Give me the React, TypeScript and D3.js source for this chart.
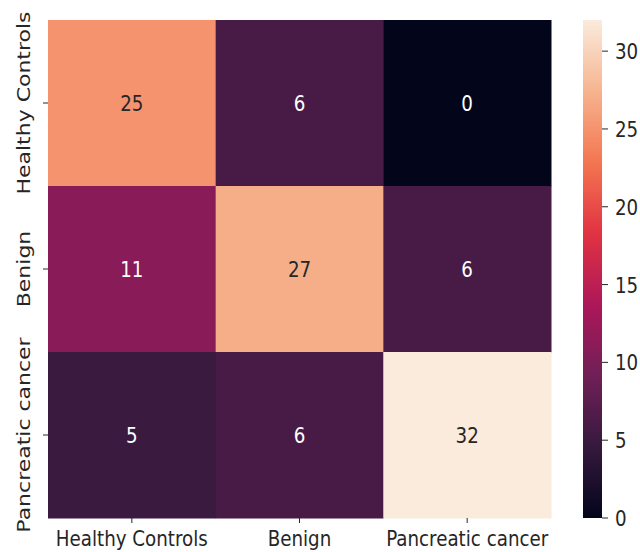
import React from "react";
import * as d3 from "d3";

// Confusion matrix: rows = true class, columns = predicted class
const categories = ["Healthy Controls", "Benign", "Pancreatic cancer"];
const rowHealthy = [25, 6, 0];
const rowBenign = [11, 27, 6];
const rowCancer = [5, 6, 32];
const matrix = [rowHealthy, rowBenign, rowCancer];
const colorbarTicks = [0, 5, 10, 15, 20, 25, 30];
const vmin = 0;
const vmax = 32;

// "rocket" colormap anchor colours, evenly spaced from 0 to 1
const rocketStops = [
  "#03051a",
  "#35193e",
  "#701f57",
  "#ad1759",
  "#e13342",
  "#f37651",
  "#f6b48f",
  "#faebdd",
];

const W = 640;
const H = 552;
const FONT = "DejaVu Sans, sans-serif";
const FS = 22;
const SX = 0.83; // horizontal glyph compression

export default function App() {
  const rocket = d3.piecewise(d3.interpolateRgb, rocketStops);
  const color = d3.scaleSequential(rocket).domain([vmin, vmax]);

  const heat = { left: 48, right: 551, top: 20, bottom: 518 };
  const x = d3
    .scaleBand<string>()
    .domain(categories)
    .range([heat.left, heat.right])
    .padding(0);
  const y = d3
    .scaleBand<string>()
    .domain(categories)
    .range([heat.top, heat.bottom])
    .padding(0);

  const cb = { left: 583, right: 602, top: 20, bottom: 518 };
  const cy = d3.scaleLinear().domain([vmin, vmax]).range([cb.bottom, cb.top]);
  const gradStops = d3.range(0, 1.0001, 1 / 64);

  const cells: { r: string; c: string; v: number }[] = [];
  matrix.forEach((row, i) =>
    row.forEach((v, j) => cells.push({ r: categories[i], c: categories[j], v }))
  );

  const textColor = (v: number) => {
    const c = d3.rgb(color(v));
    const lum = 0.2126 * c.r + 0.7152 * c.g + 0.0722 * c.b;
    return lum / 255 > 0.408 ? "#262626" : "#ffffff";
  };

  return (
    <svg
      width={W}
      height={H}
      viewBox={`0 0 ${W} ${H}`}
      style={{ position: "absolute", left: 0, top: 0, background: "#fff" }}
      fontFamily={FONT}
    >
      <defs>
        <linearGradient id="cbar" x1="0" y1="1" x2="0" y2="0">
          {gradStops.map((t) => (
            <stop key={t} offset={t} stopColor={rocket(t)} />
          ))}
        </linearGradient>
      </defs>

      {/* heatmap cells */}
      {cells.map((d) => (
        <rect
          key={d.r + d.c}
          x={x(d.c)}
          y={y(d.r)}
          width={x.bandwidth() + 0.5}
          height={y.bandwidth() + 0.5}
          fill={color(d.v)}
        />
      ))}

      {/* cell annotations */}
      {cells.map((d) => (
        <text
          key={"t" + d.r + d.c}
          transform={`translate(${x(d.c)! + x.bandwidth() / 2},${
            y(d.r)! + y.bandwidth() / 2 + 8
          }) scale(${SX},1)`}
          textAnchor="middle"
          fontSize={FS}
          fill={textColor(d.v)}
        >
          {d.v}
        </text>
      ))}

      {/* x axis ticks and labels */}
      {categories.map((c) => {
        const cx = x(c)! + x.bandwidth() / 2;
        return (
          <g key={"x" + c}>
            <line x1={cx} x2={cx} y1={heat.bottom} y2={heat.bottom + 5} stroke="#262626" strokeWidth={1} />
            <text
              transform={`translate(${cx},${heat.bottom + 28}) scale(${SX},1)`}
              textAnchor="middle"
              fontSize={FS}
              fill="#262626"
            >
              {c}
            </text>
          </g>
        );
      })}

      {/* y axis ticks and labels */}
      {categories.map((c) => {
        const cyy = y(c)! + y.bandwidth() / 2;
        return (
          <g key={"y" + c}>
            <line x1={heat.left - 5} x2={heat.left} y1={cyy} y2={cyy} stroke="#262626" strokeWidth={1} />
            <text
              transform={`translate(${heat.left - 18},${cyy}) scale(${SX},1) rotate(-90)`}
              textAnchor="middle"
              fontSize={FS}
              fill="#262626"
            >
              {c}
            </text>
          </g>
        );
      })}

      {/* colorbar */}
      <rect
        x={cb.left}
        y={cb.top}
        width={cb.right - cb.left}
        height={cb.bottom - cb.top}
        fill="url(#cbar)"
      />
      {colorbarTicks.map((t) => (
        <g key={"cb" + t}>
          <line x1={cb.right} x2={cb.right + 6} y1={cy(t)} y2={cy(t)} stroke="#262626" strokeWidth={1} />
          <text
            transform={`translate(${cb.right + 13},${cy(t) + 8}) scale(${SX},1)`}
            fontSize={FS}
            fill="#262626"
          >
            {t}
          </text>
        </g>
      ))}
    </svg>
  );
}
